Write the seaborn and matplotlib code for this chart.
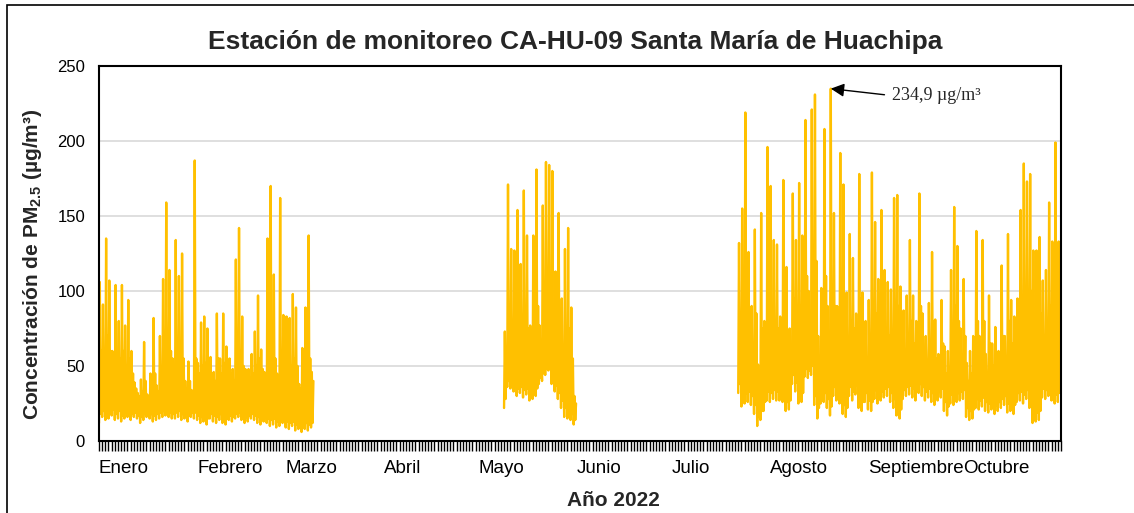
import numpy as np
import pandas as pd
import matplotlib
matplotlib.use("Agg")
import matplotlib.pyplot as plt
import matplotlib.dates as mdates
from matplotlib.patches import Rectangle
import seaborn as sns

# textos del grafico
titulo = "Estación de monitoreo CA-HU-09 Santa María de Huachipa"
etiqueta_y = "Concentración de PM$_{2.5}$ (µg/m³)"
etiqueta_x = "Año 2022"
nota_max = "234,9 µg/m³"
meses = ["Enero", "Febrero", "Marzo", "Abril", "Mayo", "Junio",
         "Julio", "Agosto", "Septiembre", "Octubre"]
marcas_y = [0, 50, 100, 150, 200, 250]

# tramos con datos: por dia un minimo, el pico,
# un segundo minimo y el nivel alto habitual de la banda
inicio_tramos = ["2022-01-01", "2022-05-09", "2022-07-22"]

picos_ene_mar = [106, 91, 135, 107, 60, 104, 80, 104, 77, 94,
                 60, 39, 32, 41, 66, 31, 45, 82, 37, 70,
                 108, 159, 114, 55, 134, 110, 125, 40, 53, 34,
                 187, 52, 79, 83, 75, 56, 46, 85, 55, 85,
                 63, 55, 48, 121, 142, 83, 48, 48, 58, 73,
                 97, 61, 46, 135, 170, 111, 45, 162, 84, 83,
                 82, 98, 89, 38, 62, 89, 137, 46]
banda_ene_mar = [60, 55, 70, 60, 50, 58, 55, 60, 50, 55,
                 45, 35, 30, 33, 40, 30, 38, 45, 33, 42,
                 55, 70, 60, 45, 65, 58, 55, 35, 40, 30,
                 55, 45, 50, 52, 48, 45, 40, 55, 45, 52,
                 48, 45, 40, 55, 60, 50, 40, 42, 45, 50,
                 55, 48, 40, 60, 65, 55, 40, 58, 50, 52,
                 50, 55, 50, 35, 45, 50, 55, 40]
minimos_ene_mar = [12, 16, 14, 15, 17, 14, 15, 13, 15, 16,
                   14, 16, 15, 12, 14, 16, 15, 13, 14, 15,
                   16, 17, 16, 15, 15, 16, 14, 15, 13, 16,
                   15, 14, 12, 13, 11, 15, 13, 12, 14, 12,
                   11, 14, 13, 15, 16, 14, 12, 13, 15, 14,
                   12, 11, 13, 12, 10, 11, 9, 10, 12, 9,
                   8, 10, 7, 8, 6, 8, 7, 9]
minimos2_ene_mar = [18, 20, 17, 19, 21, 18, 20, 17, 19, 20,
                    18, 19, 17, 16, 18, 19, 18, 17, 18, 19,
                    20, 21, 19, 18, 19, 20, 18, 19, 17, 19,
                    19, 17, 16, 17, 15, 18, 17, 16, 18, 16,
                    15, 17, 16, 18, 19, 17, 16, 17, 18, 17,
                    16, 15, 16, 15, 14, 15, 13, 14, 15, 13,
                    12, 13, 11, 12, 10, 12, 11, 12]

picos_may = [73, 171, 128, 127, 154, 118, 167, 137, 77, 137,
             181, 77, 157, 186, 184, 180, 113, 152, 95, 128,
             142, 89, 30]
banda_may = [60, 90, 75, 80, 85, 70, 80, 75, 60, 78,
             90, 60, 85, 95, 90, 88, 70, 80, 60, 70,
             75, 55, 25]
minimos_may = [22, 36, 35, 33, 30, 32, 29, 31, 27, 28,
               30, 38, 40, 44, 47, 38, 33, 28, 22, 16,
               15, 14, 11]
minimos2_may = [28, 40, 38, 37, 35, 36, 34, 35, 32, 33,
                35, 42, 45, 48, 50, 42, 37, 32, 27, 22,
                20, 18, 14]

picos_jul_oct = [132, 155, 219, 126, 90, 141, 51, 152, 80, 196,
                 170, 134, 131, 83, 174, 116, 75, 165, 134, 172,
                 137, 214, 100, 221, 231, 70, 102, 208, 90, 234.9,
                 152, 90, 192, 171, 99, 138, 122, 85, 178, 99,
                 80, 94, 179, 146, 108, 154, 114, 106, 101, 162,
                 164, 103, 87, 97, 134, 97, 80, 165, 85, 70,
                 92, 126, 81, 58, 94, 63, 60, 114, 156, 130,
                 75, 108, 52, 60, 70, 140, 70, 134, 58, 97,
                 65, 76, 60, 117, 70, 138, 94, 83, 95, 154,
                 185, 173, 178, 127, 127, 136, 107, 114, 159, 133,
                 199, 133]
banda_jul_oct = [70, 90, 110, 80, 60, 85, 40, 75, 55, 95,
                 90, 80, 75, 55, 90, 70, 50, 95, 80, 90,
                 80, 110, 70, 115, 120, 55, 70, 110, 65, 100,
                 90, 65, 100, 95, 60, 80, 75, 60, 95, 65,
                 55, 65, 90, 85, 70, 85, 75, 70, 65, 90,
                 90, 70, 60, 65, 80, 65, 55, 90, 60, 50,
                 65, 80, 55, 45, 65, 45, 45, 70, 90, 80,
                 55, 70, 40, 45, 50, 80, 50, 80, 45, 65,
                 50, 55, 45, 70, 50, 80, 65, 60, 65, 90,
                 100, 95, 100, 80, 80, 85, 70, 75, 90, 80,
                 100, 80]
minimos_jul_oct = [32, 23, 25, 26, 24, 18, 10, 14, 20, 27,
                   26, 28, 27, 27, 26, 20, 21, 38, 33, 25,
                   26, 43, 42, 44, 24, 15, 25, 26, 22, 17,
                   30, 27, 25, 18, 16, 30, 27, 31, 22, 20,
                   26, 21, 20, 28, 25, 27, 29, 30, 26, 22,
                   17, 15, 28, 30, 31, 29, 27, 32, 30, 27,
                   29, 26, 24, 27, 29, 20, 17, 25, 24, 26,
                   27, 28, 16, 14, 15, 22, 21, 23, 20, 19,
                   21, 18, 20, 22, 24, 19, 20, 18, 26, 27,
                   25, 28, 22, 12, 13, 14, 29, 28, 30, 27,
                   25, 26]
minimos2_jul_oct = [38, 30, 32, 33, 30, 24, 16, 20, 26, 33,
                    32, 34, 33, 33, 32, 26, 27, 44, 39, 31,
                    32, 48, 47, 50, 30, 22, 31, 32, 28, 23,
                    36, 33, 31, 24, 22, 36, 33, 37, 28, 26,
                    32, 27, 26, 34, 31, 33, 35, 36, 32, 28,
                    23, 21, 34, 36, 37, 35, 33, 38, 36, 33,
                    35, 32, 30, 33, 35, 26, 23, 31, 30, 32,
                    33, 34, 22, 20, 21, 28, 27, 29, 26, 25,
                    27, 24, 26, 28, 30, 25, 26, 24, 32, 33,
                    31, 34, 28, 18, 19, 20, 35, 34, 36, 33,
                    31, 32]


def armar_tramo(inicio, minimos, picos, minimos2, banda, tramo):
    # cuatro lecturas por dia, cada 6 horas
    valores = np.column_stack([minimos, picos, minimos2, banda]).ravel()
    fechas = pd.Timestamp(inicio) + pd.to_timedelta(np.arange(len(valores)) * 6, unit="h")
    return pd.DataFrame({"fecha": fechas, "pm25": valores, "tramo": tramo})


df = pd.concat([
    armar_tramo(inicio_tramos[0], minimos_ene_mar, picos_ene_mar, minimos2_ene_mar, banda_ene_mar, 1),
    armar_tramo(inicio_tramos[1], minimos_may, picos_may, minimos2_may, banda_may, 2),
    armar_tramo(inicio_tramos[2], minimos_jul_oct, picos_jul_oct, minimos2_jul_oct, banda_jul_oct, 3),
], ignore_index=True)

sns.set_theme(style="white")
plt.rcParams["font.family"] = ["Liberation Sans", "DejaVu Sans"]
plt.rcParams["mathtext.fontset"] = "custom"
plt.rcParams["mathtext.rm"] = "Liberation Sans:bold"
plt.rcParams["mathtext.bf"] = "Liberation Sans:bold"
plt.rcParams["mathtext.default"] = "rm"

fig, ax = plt.subplots(figsize=(11.34, 5.13), dpi=100)
fig.subplots_adjust(left=99 / 1134, right=1061 / 1134, bottom=72 / 513, top=447 / 513)

sns.lineplot(data=df, x="fecha", y="pm25", units="tramo", estimator=None,
             color="#FFC000", lw=1.7, ax=ax, legend=False)

ax.set_xlim(pd.Timestamp("2022-01-01"), pd.Timestamp("2022-11-01"))
ax.set_ylim(0, 250)
ax.set_xlabel("")
ax.set_ylabel("")

ax.set_yticks(marcas_y)
ax.yaxis.grid(True, color="#d9d9d9", lw=1.2)
ax.xaxis.grid(False)
ax.set_axisbelow(True)
ax.tick_params(axis="y", length=0, labelsize=12, pad=10, colors="black")

inicio_meses = pd.date_range("2022-01-01", periods=len(meses), freq="MS")
ax.set_xticks(mdates.date2num(inicio_meses))
ax.set_xticklabels(meses, ha="left")
ax.xaxis.set_minor_locator(mdates.DayLocator())
ax.tick_params(axis="x", which="both", length=7, width=1.0, direction="out",
               color="black", bottom=True)
ax.tick_params(axis="x", which="major", labelsize=13.5, pad=7, labelcolor="black")

for s in ax.spines.values():
    s.set_color("black")
    s.set_linewidth(1.5)

# anotacion del valor maximo
i_max = df["pm25"].idxmax()
ax.annotate(nota_max, xy=(df.loc[i_max, "fecha"], df.loc[i_max, "pm25"]),
            xytext=(44, -5), textcoords="offset points", ha="left", va="center",
            fontsize=13, family="Liberation Serif",
            arrowprops=dict(arrowstyle="-|>", color="black", lw=1,
                            mutation_scale=20, relpos=(0, 0.5),
                            shrinkA=3, shrinkB=0))

fig.text(575 / 1134, 1 - 42 / 513, titulo, ha="center", va="center",
         fontsize=19, fontweight="bold")
fig.text(33 / 1134, 1 - 264 / 513, etiqueta_y, rotation=90, ha="center",
         va="center", fontsize=15, fontweight="bold")
fig.text(613 / 1134, 1 - 500 / 513, etiqueta_x, ha="center", va="center",
         fontsize=15, fontweight="bold")

# marco exterior
fig.patches.append(Rectangle((7 / 1134, -0.1), 2, 1.1 - 5 / 513, fill=False,
                             ec="black", lw=1.2, transform=fig.transFigure))

fig.savefig("out.png", dpi=100)
